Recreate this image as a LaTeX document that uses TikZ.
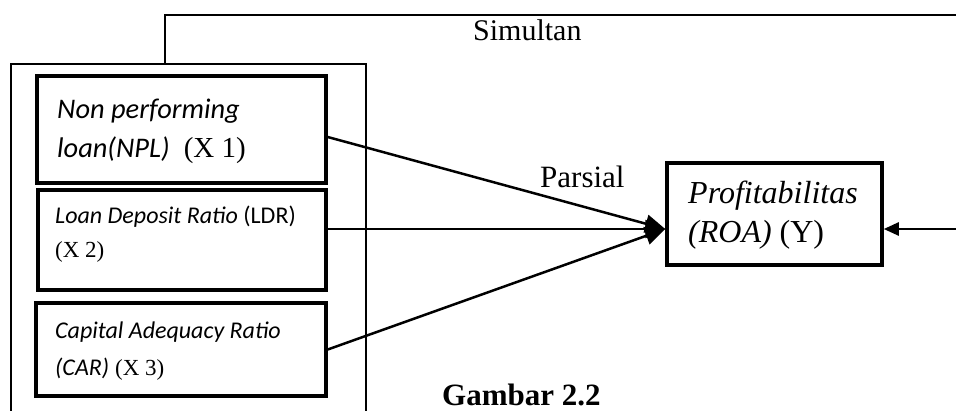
\documentclass[tikz,border=0pt]{standalone}
\usepackage{fontspec}
\setmainfont{Liberation Serif}
\newfontfamily\calib{Carlito}
\usetikzlibrary{arrows.meta}
\begin{document}
\begin{tikzpicture}[x=1pt,y=-1pt,
  varbox/.style={draw,rectangle,line width=3.5pt,inner sep=0pt},
  thin/.style={line width=1.8pt},
  conn/.style={line width=2.5pt},
  bigtip/.style={-{Triangle[length=20pt,width=18pt]}},
  smalltip/.style={-{Triangle[length=15pt,width=13pt]}},
  txt/.style={anchor=base west,inner sep=0pt}]
\useasboundingbox (0,0) rectangle (956,410);
% outer frame
\coordinate (ob1) at (11,412);
\coordinate (ot1) at (11,64);
\coordinate (ot2) at (366,64);
\coordinate (ob2) at (366,412);
\coordinate (tj) at (165,64);
\coordinate (tc) at (165,15);
\coordinate (te) at (958,15);
\draw[thin] (ob1) -- (ot1) -- (ot2) -- (ob2);
\draw[thin] (tj) -- (tc) -- (te);
% boxes
\node[varbox,minimum width=289pt,minimum height=107pt] (b1) at (181.5,129.5) {};
\node[varbox,minimum width=288pt,minimum height=100pt] (b2) at (182,240) {};
\node[varbox,minimum width=290pt,minimum height=93pt] (b3) at (181,349.5) {};
\node[varbox,minimum width=215pt,minimum height=102pt] (y) at (774.5,214) {};
% texts
\node[txt] (t1a) at (57,118) {\fontsize{28.4}{34}\selectfont\calib\itshape Non performing};
\node[txt] (t1b) at (57,157) {\fontsize{28.4}{34}\selectfont{\calib\itshape loan(NPL)}\ \ \fontsize{29}{34}\selectfont(X 1)};
\node[txt] (t2a) at (55,223) {\fontsize{24}{30}\selectfont\calib{\itshape Loan Deposit Ratio} (LDR)};
\node[txt] (t2b) at (55,257) {\fontsize{23}{30}\selectfont(X 2)};
\node[txt] (t3a) at (55,338) {\fontsize{24}{30}\selectfont\calib\itshape Capital Adequacy Ratio};
\node[txt] (t3b) at (55,375) {\fontsize{24}{30}\selectfont{\calib\itshape (CAR)} \fontsize{23}{30}\selectfont(X 3)};
\node[txt] (tya) at (688,203) {\fontsize{32}{38}\selectfont\itshape Profitabilitas};
\node[txt] (tyb) at (688,242) {\fontsize{32}{38}\selectfont{\itshape (ROA)} (Y)};
\node[txt] (sim) at (473,40) {\fontsize{30}{36}\selectfont Simultan};
\node[txt] (par) at (540,187) {\fontsize{31}{36}\selectfont Parsial};
\node[txt] (gam) at (442,405) {\fontsize{31}{36}\selectfont\bfseries Gambar 2.2};
% connectors
\draw[conn,bigtip] ([yshift=-7.5pt]b1.east) -- ([yshift=-15pt]y.west);
\draw[conn,bigtip] ([yshift=11pt]b2.east) -- ([yshift=-15pt]y.west);
\draw[conn,bigtip] (b3.east) -- ([yshift=-15pt]y.west);
\coordinate (rin) at (958,229);
\draw[conn,smalltip] (rin) -- ([yshift=-15pt]y.east);
\end{tikzpicture}
\end{document}
